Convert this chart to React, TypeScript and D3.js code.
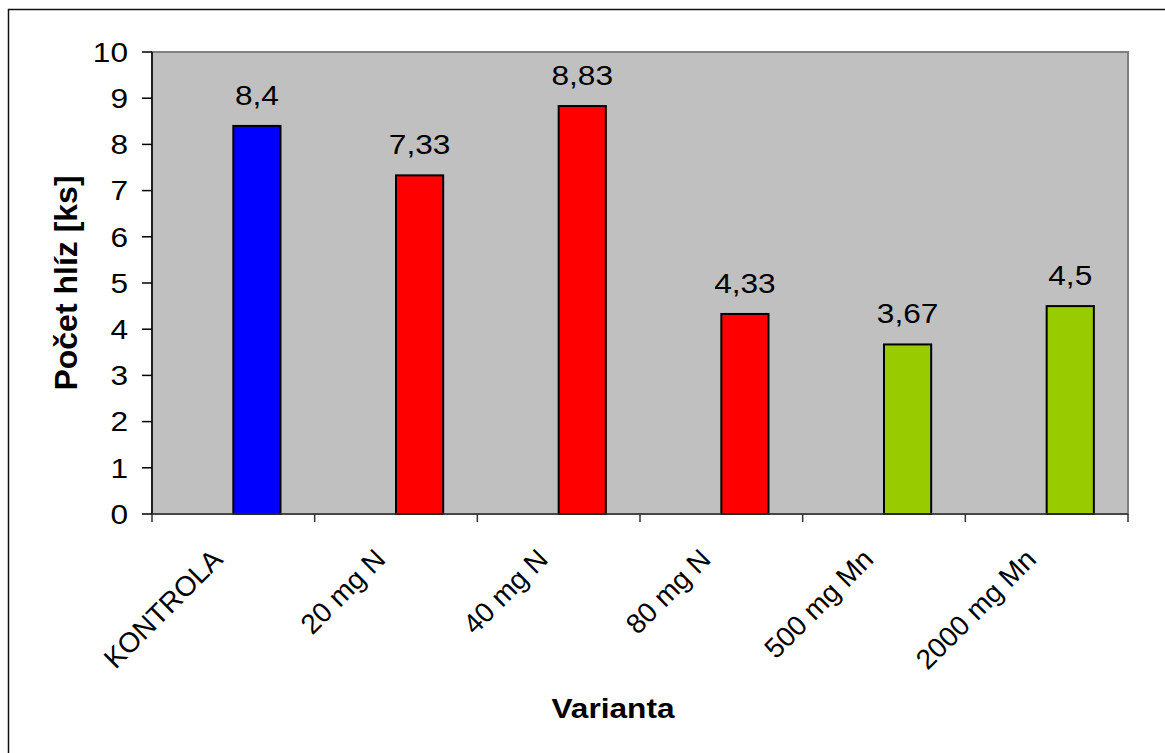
import React from "react";
import * as d3 from "d3";

const categories = ["KONTROLA", "20 mg N", "40 mg N", "80 mg N", "500 mg Mn", "2000 mg Mn"];
const values = [8.4, 7.33, 8.83, 4.33, 3.67, 4.5];
const valueLabels = ["8,4", "7,33", "8,83", "4,33", "3,67", "4,5"];
const barColors = ["#0000FF", "#FF0000", "#FF0000", "#FF0000", "#99CC00", "#99CC00"];
const yTicks = [0, 1, 2, 3, 4, 5, 6, 7, 8, 9, 10];

const W = 1165;
const H = 753;
const plot = { left: 152, right: 1128, top: 52, bottom: 514 };
const FONT = "Arial, 'Liberation Sans', Helvetica, sans-serif";
const WIDEN = 1.13;

export default function App() {
  const x = d3.scaleBand<string>().domain(categories).range([plot.left, plot.right]).padding(0);
  const y = d3.scaleLinear().domain([0, 10]).range([plot.bottom, plot.top]);
  const bw = x.bandwidth() * 0.29;
  const boundaries = d3.range(categories.length + 1).map((i) => plot.left + i * x.bandwidth());

  return (
    <svg
      width={W}
      height={H}
      style={{ position: "absolute", left: 0, top: 0, display: "block" }}
      fontFamily={FONT}
    >
      <rect x={0} y={0} width={W} height={H} fill="#fff" />
      <rect x={8.5} y={9.5} width={1300} height={900} fill="none" stroke="#111" strokeWidth={1.5} />
      <rect
        x={plot.left}
        y={plot.top}
        width={plot.right - plot.left}
        height={plot.bottom - plot.top}
        fill="#C0C0C0"
        stroke="#808080"
        strokeWidth={2}
      />
      {categories.map((c, i) => {
        const cx = (x(c) as number) + x.bandwidth() / 2;
        return (
          <g key={c}>
            <rect
              x={cx}
              y={y(values[i])}
              width={bw}
              height={y(0) - y(values[i])}
              fill={barColors[i]}
              stroke="#000"
              strokeWidth={2}
            />
            <text
              transform={`translate(${cx + bw / 2},${y(values[i]) - 21}) scale(${WIDEN},1)`}
              textAnchor="middle"
              fontSize={28}
              fill="#000"
            >
              {valueLabels[i]}
            </text>
            <text
              transform={`translate(${cx - 9},${561}) rotate(-45)`}
              textAnchor="end"
              fontSize={28}
              fill="#000"
            >
              {c}
            </text>
          </g>
        );
      })}
      {/* y axis */}
      <line x1={plot.left} x2={plot.left} y1={plot.top} y2={plot.bottom} stroke="#000" strokeWidth={1.5} />
      {yTicks.map((t) => (
        <g key={t}>
          <line x1={plot.left - 10} x2={plot.left} y1={y(t)} y2={y(t)} stroke="#000" strokeWidth={1.5} />
          <text
            transform={`translate(128,${y(t)}) scale(${WIDEN},1)`}
            dy="0.35em"
            textAnchor="end"
            fontSize={28}
            fill="#000"
          >
            {t}
          </text>
        </g>
      ))}
      {/* x axis */}
      <line x1={plot.left} x2={plot.right} y1={plot.bottom} y2={plot.bottom} stroke="#333" strokeWidth={1.5} />
      {boundaries.map((bx, i) => (
        <line key={i} x1={bx} x2={bx} y1={plot.bottom} y2={plot.bottom + 8} stroke="#333" strokeWidth={1.5} />
      ))}
      <text
        transform={`translate(77,${(plot.top + plot.bottom) / 2}) rotate(-90)`}
        textAnchor="middle"
        fontSize={32}
        fontWeight="bold"
        fill="#000"
      >
        Počet hlíz [ks]
      </text>
      <text
        transform={`translate(613,718) scale(${WIDEN},1)`}
        textAnchor="middle"
        fontSize={28}
        fontWeight="bold"
        fill="#000"
      >
        Varianta
      </text>
    </svg>
  );
}
